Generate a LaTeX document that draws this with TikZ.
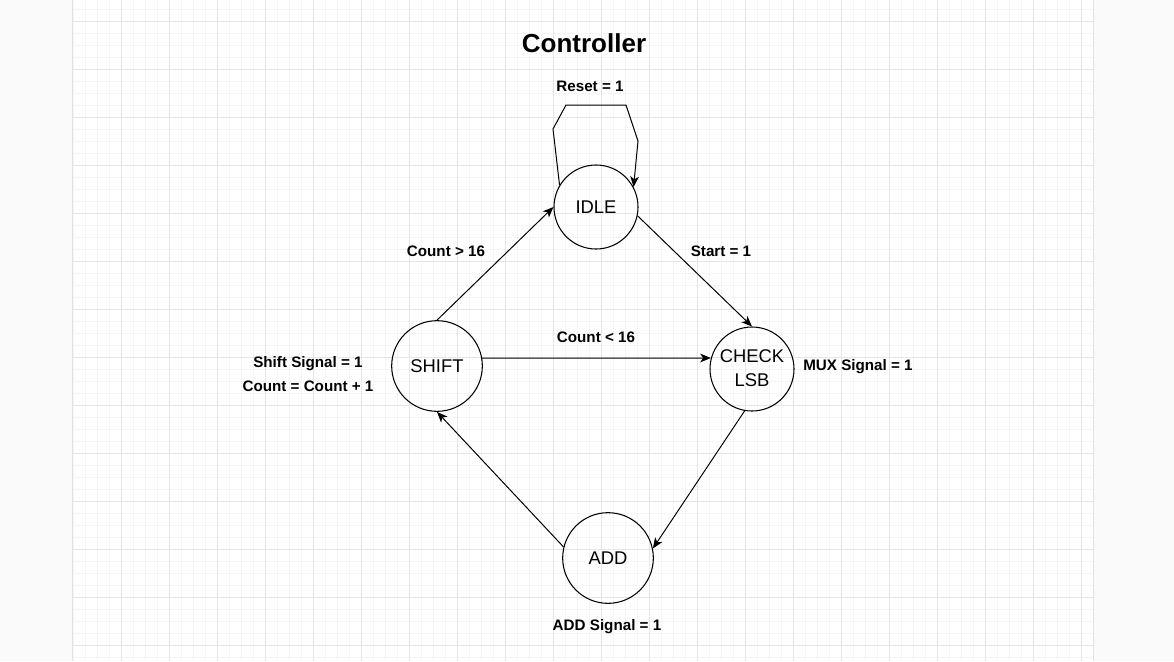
\documentclass[tikz,border=0pt]{standalone}
\usepackage{fontspec}
\setmainfont{Liberation Sans}
\usetikzlibrary{arrows.meta}
\definecolor{fondo}{HTML}{FAFAFA}
\definecolor{borde}{HTML}{E2E2E2}
\definecolor{rejilla}{HTML}{E6E6E6}
\definecolor{rejillafina}{HTML}{F5F5F5}
\begin{document}
\begin{tikzpicture}[x=0.75pt,y=-0.75pt,
    estado/.style={draw,circle,line width=0.8pt,minimum size=63pt,inner sep=0pt,
        font=\fontsize{13.8}{18}\selectfont,align=center},
    etiqueta/.style={font=\fontsize{11.4}{18}\selectfont\bfseries,align=center},
    flecha/.style={-{Stealth[length=8pt,width=6.5pt,inset=2.2pt]},line width=0.75pt}]
    \useasboundingbox (0,0) rectangle (1174,661);

    % Fondo y rejilla
    \fill[fondo] (0,0) rectangle (1174,661);
    \fill[white] (73,0) rectangle (1093,661);
    \foreach \k in {0,...,84}
        \draw[rejillafina,line width=0.75pt] ({73.7+12*\k},0) -- ({73.7+12*\k},661);
    \foreach \k in {0,...,54}
        \draw[rejillafina,line width=0.75pt] (73,{9.3+12*\k}) -- (1093,{9.3+12*\k});
    \foreach \k in {1,...,21}
        \draw[rejilla,line width=0.75pt] ({73.7+48*\k},0) -- ({73.7+48*\k},661);
    \foreach \k in {0,...,13}
        \draw[rejilla,line width=0.75pt] (73,{21.3+48*\k}) -- (1093,{21.3+48*\k});
    \draw[borde,line width=1pt] (72.5,0) -- (72.5,661);
    \draw[borde,line width=1pt] (1093.5,0) -- (1093.5,661);

    % Titulo
    \node[font=\fontsize{19.5}{22}\selectfont\bfseries] (titulo) at (584,43) {Controller};

    % Estados
    \node[estado] (idle) at (596,207) {IDLE};
    \node[estado,minimum size=68pt] (shift) at (437,366) {SHIFT};
    \node[estado] (check) at (752,369) {\raisebox{1.5pt}{CHECK}\\\raisebox{1.5pt}{LSB}};
    \node[estado,minimum size=68pt] (add) at (608,558) {ADD};

    % Bucle de reset
    \coordinate (l1) at (553,129);
    \coordinate (l2) at (566,105);
    \coordinate (l3) at (626,105);
    \coordinate (l4) at (638,141);
    \draw[flecha] (idle.149) -- (l1) -- (l2) -- (l3) -- (l4) -- (idle.28);

    % Transiciones
    \draw[flecha] (shift.north) -- (idle.west);
    \draw[flecha] (idle.-12) -- (check.north);
    \draw[flecha] (shift.10) -- (check.165);
    \draw[flecha] (check.-100) -- (add.12);
    \draw[flecha] (add.166) -- (shift.south);

    % Etiquetas
    \node[etiqueta] (reset) at (590,86) {Reset = 1};
    \node[etiqueta] (mayor) at (446,251) {Count > 16};
    \node[etiqueta] (start) at (721,251) {Start = 1};
    \node[etiqueta] (menor) at (596,337) {Count < 16};
    \node[etiqueta] (salshift) at (308,374) {Shift Signal = 1\\Count = Count + 1};
    \node[etiqueta] (salmux) at (858,367) {MUX Signal = 1};
    \node[etiqueta] (saladd) at (607,627) {ADD Signal = 1};
\end{tikzpicture}
\end{document}
